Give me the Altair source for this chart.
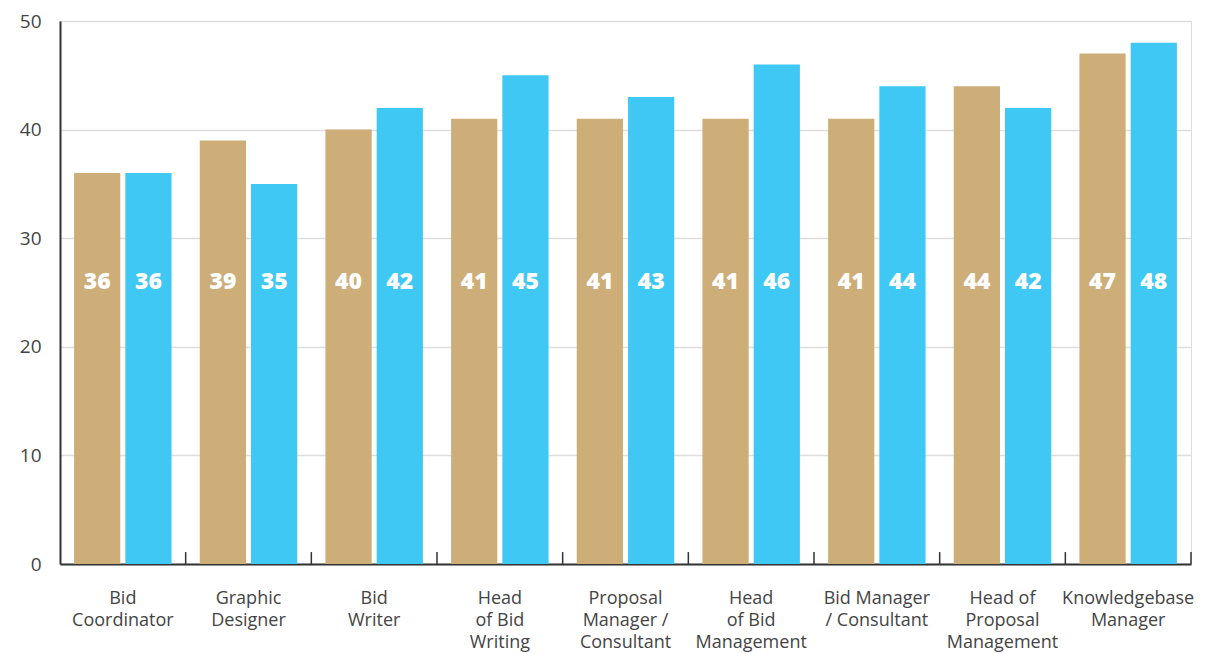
import altair as alt
import pandas as pd

categories = [
    "Bid|Coordinator",
    "Graphic|Designer",
    "Bid|Writer",
    "Head|of Bid|Writing",
    "Proposal|Manager /|Consultant",
    "Head|of Bid|Management",
    "Bid Manager|/ Consultant",
    "Head of|Proposal|Management",
    "Knowledgebase|Manager",
]
series_names = ["A", "B"]
values_a = [36, 39, 40, 41, 41, 41, 41, 44, 47]
values_b = [36, 35, 42, 45, 43, 46, 44, 42, 48]
colors = ["#CDAD78", "#40C8F4"]

rows = []
for c, a, b in zip(categories, values_a, values_b):
    rows.append({"cat": c, "series": series_names[0], "value": a})
    rows.append({"cat": c, "series": series_names[1], "value": b})
df = pd.DataFrame(rows)
cats_df = pd.DataFrame({"cat": categories})

FONT = "Open Sans"

x_enc = alt.X(
    "cat:N",
    sort=categories,
    scale=alt.Scale(paddingInner=0, paddingOuter=0),
    axis=alt.Axis(
        title=None,
        labelAngle=0,
        labelExpr="split(datum.label, '|')",
        labelFontSize=18,
        labelColor="#444444",
        labelFont=FONT,
        labelPadding=25,
        labelLineHeight=22,
        ticks=False,
        domainColor="#333333",
        domainWidth=2,
        grid=False,
    ),
)
xoff = alt.XOffset(
    "series:N",
    sort=series_names,
    scale=alt.Scale(paddingInner=0.098, paddingOuter=0.275),
)
y_enc = alt.Y(
    "value:Q",
    scale=alt.Scale(domain=[0, 50]),
    axis=alt.Axis(
        title=None,
        values=[0, 10, 20, 30, 40, 50],
        labelFontSize=19,
        labelColor="#444444",
        labelFont=FONT,
        labelPadding=19,
        ticks=False,
        domainColor="#333333",
        domainWidth=2,
        gridColor="#dddddd",
        gridWidth=1.5,
    ),
)
color_enc = alt.Color(
    "series:N",
    sort=series_names,
    scale=alt.Scale(domain=series_names, range=colors),
    legend=None,
)

bars = alt.Chart(df).mark_bar().encode(x=x_enc, xOffset=xoff, y=y_enc, color=color_enc)

labels = alt.Chart(df).mark_text(
    color="white", fontSize=23, fontWeight=800, font=FONT, baseline="middle"
).encode(
    x=alt.X("cat:N", sort=categories),
    xOffset=alt.XOffset("series:N", sort=series_names),
    y=alt.datum(26),
    text=alt.Text("value:Q"),
)

ticks = alt.Chart(cats_df).mark_rule(color="#333333", strokeWidth=1.5).encode(
    x=alt.X("cat:N", sort=categories, bandPosition=1),
    y=alt.datum(0),
    y2=alt.datum(1.1),
)

chart = alt.layer(bars, labels, ticks).properties(
    width=1131,
    height=543,
    autosize=alt.AutoSizeParams(type="none"),
    padding={"left": 60, "top": 21, "right": 34, "bottom": 90},
).configure_view(stroke=None).configure(background="white")

chart.save("out.html", embed_options={"renderer": "svg", "actions": False})
